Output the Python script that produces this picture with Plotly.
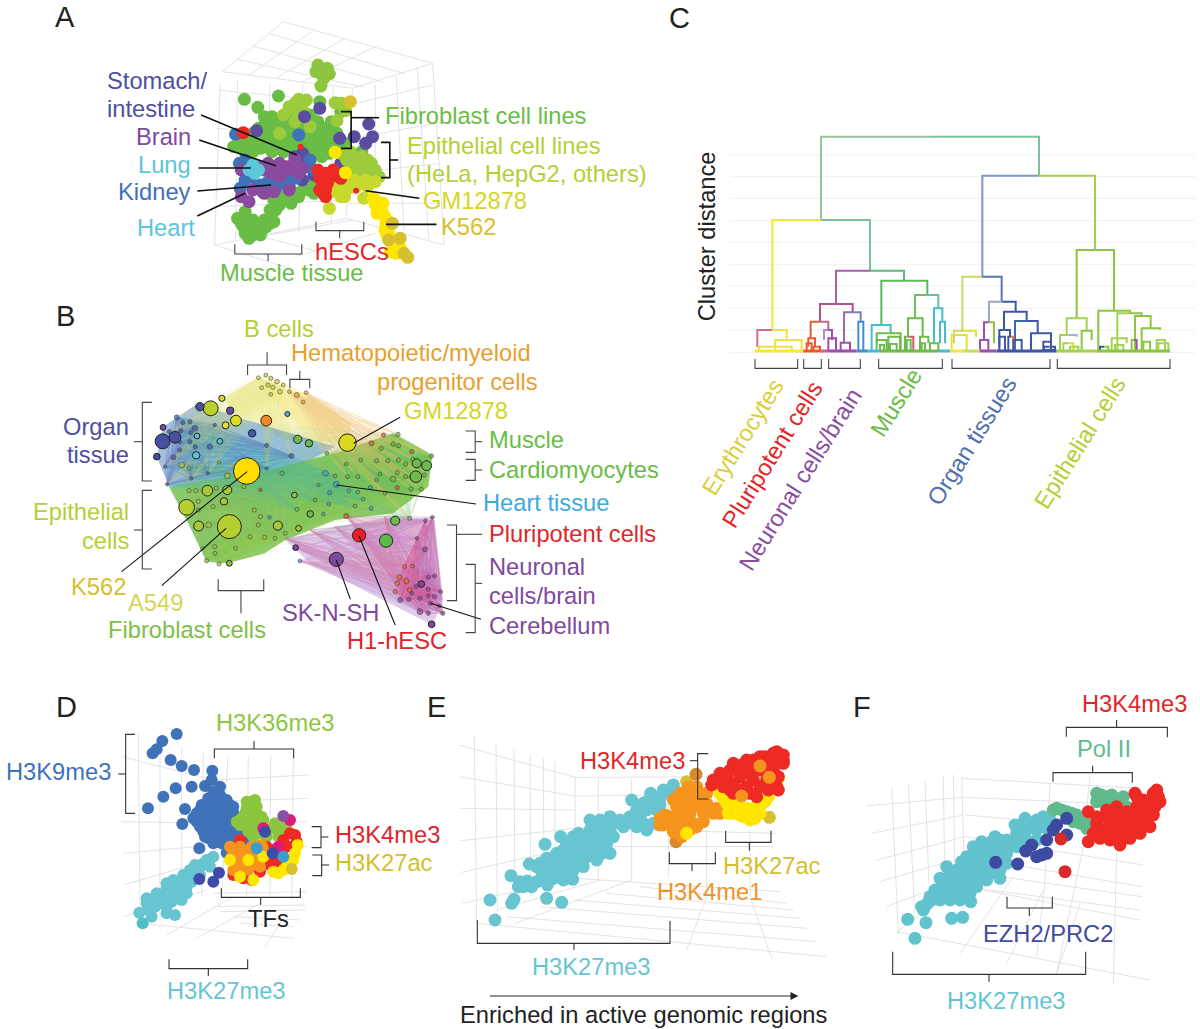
import plotly.graph_objects as go

FONT = "Liberation Sans"
TS = 23.7
# panel: page offset and scales of the reading grid
PANELS = {"A": (50, 0, 1568/600, 3.0), "B": (20, 300, 1568/650, 3.0), "C": (680, 120, 3.0, 3.0),
          "D": (0, 690, 3.0, 3.0), "E": (440, 690, 3.0, 3.0), "F": (840, 690, 3.0, 3.0)}
AXN = {"A": "", "B": "2", "C": "3", "D": "4", "E": "5", "F": "6"}

C_YEL="#ffe600"; C_RED="#ee2a24"; C_ORG="#f7941d"; C_TEAL="#66c5d0"; C_BLUE="#3f72b8"
T_GRN="#69bd45"; T_LIM="#b5cf35"; T_PUR="#7e4a9e"; T_IND="#4f4ea0"; T_CYA="#5cc5da"
T_RED="#e1262a"; T_GOLD="#d4c02e"; T_GM="#d4d626"; T_ORG="#e6a02f"

# ---------- Panel A points ----------
A_top = [(700,195),(725,205),(715,235),(708,258),(695,215),(730,222)]
A_lime = [(640,310),(650,298),(635,328),(660,330),(625,320),(745,308),(762,310),(772,332),(750,362),(640,365),(670,300),(610,345),(650,350),(600,400),(680,380)]
A_muscle = [(500,655),(530,660),(560,660),(585,665),(505,680),(535,680),(565,680),(510,700),(540,695),(520,715),(555,690),(575,670),
 (575,630),(600,615),(625,600),(610,590),(640,580),(690,565),(700,545),(510,635),(585,600),
 (508,298),(597,288),(543,322),(560,350),(590,360),(680,345),(705,305),(735,365),(760,335),
 (490,440),(500,445),(520,460),(540,420),(570,400),(600,390),(630,380),(660,390),(690,400),(720,410),(570,430),(600,425),(630,420),
 (660,425),(690,430),(720,440),(550,445),(610,455),(650,450),(680,460),(710,470),(600,370),(625,350),(660,370),(530,455),(580,455),
 (560,375),(590,380),(615,400),(645,400),(675,410),(705,425),(740,430),(530,440),(560,415),(590,410),(620,440),(650,435),(680,445),(700,450),(730,460),(660,470),(590,445),(520,430),(510,420),(740,390),(560,440),
 (490,655),(515,665),(545,670),(575,655),(520,690),(550,705),(530,705),(500,670),(590,630),(600,600),(630,610),(650,590),(660,570),(675,570),(700,570),(585,625),
 (545,385),(580,350),(610,355),(640,355),(700,365),(680,370),(720,385),(750,400),(770,430),(775,460),(800,480),(815,455),(530,400),(505,450),(480,440),(615,375),(650,375),(635,440),(705,395),(750,445),(690,580),(710,555),(690,540)]
A_indigo = [(665,350),(540,392),(833,372),(843,410),(757,415),(795,410),(825,430),(705,325),(760,490),(640,470),(650,490),(625,560),(660,540),(690,525),(640,500),(660,460)]
A_blue = [(485,403),(510,480),(510,540),(497,565),(550,555),(570,545),(590,540),(610,550),(590,565),(605,530),(640,535),(680,480),(675,500),(555,575),(520,520),(650,405),
 (525,530),(540,560),(575,555),(600,550),(620,545),(635,530),(660,505),(690,510),(510,505),(495,490)]
A_brain = [(500,510),(570,490),(590,500),(610,515),(630,510),(650,520),(580,520),(560,510),(520,605),(500,590),(530,570),(560,580),(625,570),(600,490),(620,500),(640,480),(600,530),(575,500),(545,500),(610,500),(660,505),(585,575)]
A_lung = [(530,495),(520,510),(545,510),(535,520)]
A_epi = [(760,460),(790,470),(820,490),(850,510),(860,530),(790,510),(830,520),(810,500),(775,480),(800,490),(830,505),(845,530),(770,520),(810,530),(830,480),(815,470),(785,455),(840,490)]
A_gm = [(780,545),(760,570),(740,560),(800,560),(830,560),(770,590),(820,595),(730,625),(760,550),(780,565),(795,540),(825,540),(850,545),(735,575),(760,590)]
A_red = [(720,520),(745,525),(760,535),(715,580),(725,550),(720,590),(505,398),(700,510),(740,510),(705,570),(720,570),(735,530),(705,535)]
A_red_small = [(800,572),(655,440)]
A_yellow = [(745,457),(772,518),(850,600),(870,610),(860,630),(850,615),(870,640),(880,660),(880,680),(885,700),(895,730),(890,755),(905,760),(915,745),(845,595),(855,605),(865,625),(875,650),(855,640),(878,670),(875,690),(890,720),(900,745),(880,705)]
A_gold = [(895,670),(915,715),(885,720),(935,772),(925,760),(785,305)]

# ---------- Panel B nodes (x, y, size) ----------
B_bcell = [(575,233,9),(593,225,9),(605,235,10),(620,245,11),(635,255,9),(583,263,9),(598,255,10),(610,262,10),(627,275,11),(605,283,9)]
B_hema = [(668,285,12),(690,278,9),(683,306,9),(650,275,9)]
B_big = [(547,513,64,"#ffdd00"),(790,428,42,"#d8d820"),(505,680,58,"#b5cf30"),(402,622,38,"#b8cf30"),(460,325,36,"#b8cf30"),
 (521,362,26,"#dde020"),(496,376,17,"#e8e030"),(487,295,15,"#d8d83a"),(594,362,26,"#f08a24"),
 (344,424,36,"#4650a0"),(374,412,28,"#4650a0"),(434,320,20,"#4650a0"),(507,332,18,"#6a4aa0"),(345,382,14,"#7a4aa0"),(560,400,18,"#3a5fa8"),(645,342,12,"#4ab8e0"),
 (427,408,14,"#55c5dc"),(425,466,18,"#55c5dc"),(482,424,14,"#55c5dc"),(330,470,16,"#4650a0"),
 (818,706,32,"#ee1c25"),(883,722,32,"#5cb848"),(763,778,34,"#7e4a9e"),(665,743,14,"#7e4a9e"),(968,852,16,"#7e4a9e"),(993,973,16,"#7e4a9e"),
 (452,572,26,"#a8c83a"),(500,570,22,"#a8c83a"),(492,604,18,"#a8c83a"),(431,678,24,"#a8c83a"),(622,677,22,"#a8c83a"),(505,790,14,"#8cc63f"),(672,685,14,"#a8c83a"),
 (670,418,20,"#6dbb4a"),(697,430,18,"#6dbb4a"),(957,490,22,"#6dbb4a"),(981,497,24,"#6dbb4a"),(955,530,28,"#6dbb4a"),(905,662,22,"#6dbb4a"),(700,642,16,"#6dbb4a"),(662,585,14,"#8cc63f")]
B_organ = [(378,352,12),(393,368,10),(410,365,10),(388,392,10),(422,385,14),(412,398,10),(360,395,10),(385,425,10),(410,425,10),(423,440,10),(370,472,12),(385,450,10),(458,440,13),(355,553,8),(413,535,8),(453,520,8),(350,500,8),(470,375,8),(595,436,10),(595,505,8),(655,468,12)]
B_low = [(408,572,10),(424,572,10),(473,564,10),(430,604,10),(430,630,10),(466,620,10),(540,560,10),(565,630,10),(580,650,10),(575,675,10),(590,712,10),(555,710,10),(470,740,10),(450,782,10),(480,792,10),(470,760,9),(520,745,9),(640,700,9),(615,715,9),(500,527,14),(390,495,14),(480,487,8),(408,505,8),(455,675,14),(440,745,8),(575,530,8)]
B_up = [(740,460,9),(871,445,10),(900,432,10),(912,403,10),(913,437,10),(887,482,10),(860,482,10),(913,480,10),(930,492,10),(993,468,10),(948,478,10),(975,525,10),(930,530,10),(910,518,10),(900,537,14),(945,530,10),(943,567,10),(968,568,10),(822,480,9),(787,492,9),(790,530,9),(815,530,9),(868,522,9),(860,540,9),(880,580,9),(940,655,10)]
B_mid = [(632,520,10),(712,600,9),(668,628,10),(793,572,9),(815,577,9),(828,597,9),(808,618,9),(760,528,9),(720,555,8)]
B_hblue = [(732,642,9),(747,578,10),(737,520,14),(763,553,14),(745,612,9),(847,625,9),(845,562,9),(602,652,8),(675,783,9)]
B_redsm = [(945,455,10),(848,430,12),(877,405,10),(787,648,12),(910,563,10),(580,570,8)]
B_neuro = [(978,662,9),(995,652,9),(958,715,9),(977,748,12),(985,832,10),(1000,828,10),(955,860,9),(985,868,10),(1015,875,9),(1000,890,10),(965,895,10),(990,910,10),(965,935,14),(985,940,10),(1020,940,10),(1012,918,9),(945,880,9),(985,888,9),(938,898,10),(917,900,12)]
B_pluri = [(915,832,12),(932,843,13),(910,850,11),(928,800,9),(947,798,9),(905,875,10),(940,870,11)]
B_under = [(640,715),(665,743),(675,783),(763,778),(787,648),(700,690),(818,706),(760,680),(880,650)]
B_hull_green = [(360,560),(600,510),(760,460),(900,400),(995,465),(985,560),(900,640),(760,660),(640,720),(590,760),(500,790),(450,785),(410,680)]
B_hull_blue = [(345,380),(430,310),(520,350),(760,440),(640,520),(500,540),(360,560),(330,470)]
B_hull_yellow = [(575,233),(650,270),(700,285),(800,370),(790,430),(640,420),(520,340),(490,295)]
B_hull_purple = [(640,720),(760,680),(900,650),(1000,660),(1020,900),(995,975),(700,790)]
B_hull_pink = [(790,650),(1000,660),(1020,900),(930,900)]

# ---------- Panel C links ----------
C_grid_y = [105,170,235,302,367,433,498,565,630,697]
# x left, x right, top, bottom left, bottom right, left colour, right colour
C_links = [
 (423,1077,50,300,167,"#97c49a","#7fc0a0"),(907,1245,167,470,390,"#7b96c9","#a5cf45"),(277,570,300,630,452,"#f2e43a","#7fbf9a"),
 (468,672,452,552,482,"#a860a8","#5fb97b"),(604,742,482,615,525,"#5cb85c","#5cb85c"),(705,775,525,595,565,"#6fbf60","#62c0a8"),
 (684,728,595,650,650,"#6dbb4a","#6dbb4a"),(762,787,565,670,605,"#45bcd0","#45bcd0"),(780,795,605,670,670,"#45bcd0","#45bcd0"),
 (575,632,615,690,640,"#45bcd0","#45bcd0"),(590,662,640,670,690,"#6dbb4a","#6dbb4a"),(420,518,552,605,577,"#b0508f","#b0508f"),
 (492,542,577,670,605,"#9c6ab0","#7a80c0"),(392,445,605,655,630,"#e0603a","#c06a80"),(432,456,630,660,660,"#b090c8","#9c4fb0"),
 (385,405,655,680,680,"#f0562a","#f0562a"),(535,550,605,690,690,"#3b8fd0","#3b8fd0"),(232,320,630,680,660,"#d9688a","#f0e040"),
 (285,365,660,695,695,"#f0e040","#f0e040"),(237,335,680,695,695,"#f0e040","#f0e040"),(847,965,470,632,545,"#c8dc60","#5a73b5"),
 (927,1007,545,605,575,"#9aa8c0","#3f55a5"),(972,1040,575,630,603,"#3f55a5","#3f55a5"),(1005,1073,603,695,640,"#3b68b5","#3f55a5"),
 (1053,1113,640,690,665,"#3f55a5","#3f55a5"),(1090,1113,665,690,690,"#3f55a5","#3f55a5"),(1092,1125,680,695,695,"#3f55a5","#3f55a5"),
 (912,942,607,660,670,"#9c4fb0","#8cc63f"),(958,990,630,680,650,"#3f55a5","#3f55a5"),(822,888,632,670,650,"#c8dc60","#e0e040"),
 (815,860,645,695,695,"#e0e040","#e0e040"),(1190,1302,390,595,572,"#8cc63f","#8cc63f"),(1160,1220,595,645,632,"#a5d050","#a5d050"),
 (1255,1350,572,695,580,"#8cc63f","#8cc63f"),(1312,1385,580,690,588,"#a5d050","#8cc63f"),(1365,1412,588,690,625,"#8cc63f","#8cc63f"),
 (1385,1440,625,695,630,"#8cc63f","#8cc63f"),(1430,1455,660,695,695,"#a5d050","#a5d050"),(1140,1190,645,690,650,"#a5d050","#a0b0d0"),
 (1205,1235,632,695,660,"#8cc63f","#8cc63f"),(1295,1340,655,690,670,"#a5d050","#a5d050"),(590,620,660,690,690,"#6dbb4a","#6dbb4a"),
 (625,660,650,690,690,"#6dbb4a","#6dbb4a"),(675,700,650,690,690,"#6dbb4a","#d9506a"),(720,745,650,690,670,"#6dbb4a","#6dbb4a"),
 (750,775,670,695,695,"#6dbb4a","#6dbb4a"),(445,468,655,695,695,"#9c4fb0","#9c4fb0"),(482,510,668,695,695,"#9c4fb0","#9c4fb0"),
 (900,925,660,695,695,"#9c4fb0","#9c4fb0"),(958,975,650,695,695,"#3f55a5","#3f55a5"),(985,1000,650,695,695,"#3f55a5","#e08030"),
 (1150,1180,670,695,695,"#a5d050","#e0e040"),(1355,1370,660,695,695,"#8cc63f","#9c4fb0"),(1390,1410,665,695,695,"#8cc63f","#8cc63f"),
 (380,395,670,690,690,"#f0562a","#f0562a"),(400,420,680,695,695,"#f0562a","#f0562a"),(600,612,675,695,695,"#6dbb4a","#6dbb4a"),(630,650,672,695,695,"#6dbb4a","#6dbb4a"),
 (680,692,660,695,695,"#6dbb4a","#6dbb4a"),(725,735,670,695,695,"#6dbb4a","#6dbb4a"),(1000,1025,660,695,695,"#3f55a5","#3f55a5"),(1095,1125,690,695,695,"#3f55a5","#3f55a5"),
 (1305,1330,675,695,695,"#a5d050","#a5d050"),(1435,1465,670,695,695,"#a5d050","#a5d050"),(1170,1195,680,695,695,"#a5d050","#a5d050"),(1260,1285,680,695,695,"#3f55a5","#8cc63f")]
C_base = [(225,370,"#f5e642"),(370,425,"#f0562a"),(425,445,"#c95b9f"),(445,530,"#9c4fb0"),(530,565,"#4a8fd0"),(565,600,"#45bcd0"),
 (600,775,"#6dbb4a"),(775,810,"#45bcd0"),(810,850,"#f5e642"),(850,900,"#c8dc60"),(900,950,"#9c4fb0"),(950,1130,"#3f55a5"),(1130,1250,"#a5d050"),(1250,1470,"#8cc63f")]
C_ticks = [(225,353),(371,424),(446,541),(596,787),(816,1110),(1132,1470)]

# ---------- Panel D points ----------
D_h3k9 = [(530,132),(487,153),(470,178),(458,190),(512,210),(545,228),(582,240),(637,242),(527,295),(490,320),(444,355),(575,290),(615,288),(660,290),(635,270),(555,357),(547,402),(598,475),(680,488),
 (640,320),(620,340),(660,340),(690,345),(600,360),(630,360),(660,365),(700,370),(580,385),(610,385),(640,385),(670,390),(700,395),(620,410),(650,410),(680,410),(710,415),(610,425),(640,435),(670,435),(700,435),(640,460),(665,460),(725,445),
 (605,345),(645,345),(675,345),(590,370),(615,370),(645,370),(680,370),(590,395),(625,395),(655,395),(685,400),(710,395),(600,410),(635,425),(660,425),(690,425),(715,430),(625,445),(655,445),(685,450),(710,450),(650,330),(625,325),(680,330),
 (700,350),(720,400),(730,430),(660,315),(640,305),(615,440),(745,455)]
D_h3k36 = [(755,335),(740,355),(770,350),(725,385),(755,385),(785,380),(745,410),(775,410),(720,405),(760,440),(815,415),(840,415),(860,400),(835,440),(790,390),(800,440),
 (740,335),(765,330),(750,370),(770,370),(735,370),(710,395),(730,400),(760,400),(745,425),(775,430),(790,420),(850,425),(825,400)]
D_teal = [(640,500),(600,530),(570,540),(545,570),(575,560),(600,555),(500,580),(530,590),(560,590),(470,610),(500,610),(530,610),(560,610),(455,635),(485,640),(515,635),(545,630),(418,668),(445,660),(455,680),(500,670),(525,675),(610,520),(630,530),
 (440,640),(470,630),(500,595),(515,595),(545,590),(575,575),(590,540),(620,510),(480,625),(510,620),(540,605),(520,570),(550,555),(585,525),(440,625),(465,650),(500,650)]
D_teal2 = [(428,700)]
D_red = [(700,555),(730,565),(755,570),(885,435),(875,470),(835,510),(820,480),(810,525),(720,450),(780,545),(860,470),(890,455),(840,540),(715,548),(800,470),(870,430),(850,450),(835,490),(805,500)]
D_mag = [(790,415),(870,390),(835,470)]
D_orange = [(690,470),(720,470),(695,500),(725,500),(755,470),(790,480),(760,520),(730,530),(700,540),(780,530),(740,490),(710,525),(705,485),(735,515),(770,500),(760,490),(715,510),(745,540),(785,465)]
D_yellow = [(690,510),(745,510),(820,545),(850,540),(880,510),(893,465),(760,570),(720,560),(790,500),(870,525),(835,550),(860,530),(885,490)]
D_gold = [(875,537)]
D_pur = [(850,378)]
D_ind = [(795,425),(818,490),(598,567),(657,548),(640,575)]
D_blue2 = [(850,500),(770,475)]

# ---------- Panel E points ----------
E_teal = [(150,630),(165,690),(215,640),(222,628),(320,625),(365,637),(213,557),(235,590),(262,573),(290,575),(322,585),(268,522),(315,463),(362,440),(398,568),(290,530),(320,540),(350,545),(375,550),(400,540),(430,530),(320,505),(350,490),(380,500),(410,500),(440,500),(470,510),(510,490),(380,465),(410,460),(440,460),(470,470),(500,460),(415,430),(450,420),(480,430),(510,420),(450,390),(480,390),(510,380),(540,390),(570,380),(600,380),(620,420),(640,400),(575,330),(610,340),(632,310),(660,325),(700,285),(690,310),(590,410),(620,360),(650,360),
 (300,520),(330,520),(360,520),(395,520),(425,515),(455,490),(485,490),(340,510),(370,480),(400,480),(430,480),(460,450),(490,450),(520,440),(400,440),(430,440),(460,400),(490,410),(520,400),(550,410),(580,400),(610,400),(590,360),(620,335),(600,360),(640,340),(670,300),(660,345),(340,530),(310,555),(340,565),(370,570),(305,545),(360,500),(250,590),(240,575),(275,590)]
E_orange = [(680,380),(710,350),(745,290),(770,290),(740,320),(770,330),(800,340),(720,380),(750,370),(790,370),(820,370),(840,370),(670,405),(700,410),(730,400),(760,400),(790,395),(675,375),(725,440),
 (700,330),(720,310),(690,380),(660,385),(660,405),(690,395),(710,380),(730,350),(760,350),(790,350),(810,355),(740,410),(770,410),(750,420),(720,420),(700,425),(830,355),(770,310),(800,310),(720,340)]
E_dorange = [(708,455),(768,253)]
E_yellow = [(740,430),(850,325),(870,350),(900,360),(930,370),(960,350),(985,320),(930,390),(880,370),(1015,265),(840,310),(860,340),(890,345),(920,355),(950,345),(975,335),(910,380),(945,385),(865,370),(900,375),(960,370)]
E_gold = [(988,382),(740,275)]
E_red = [(880,220),(860,260),(920,210),(960,200),(1010,185),(1030,210),(1000,240),(960,240),(920,250),(880,280),(850,265),(920,290),(960,290),(1010,290),(1030,220),(990,210),(850,290),(880,310),(950,320),(1015,300),(820,270),
 (890,240),(900,260),(940,230),(980,225),(1010,215),(1015,260),(900,300),(940,270),(980,270),(1000,190),(975,200),(940,210),(870,240),(905,225),(930,250),(870,300),(985,300),(930,310),(1030,195),(840,250),(815,285)]
E_orange2 = [(905,318),(988,262),(960,228)]

# ---------- Panel F points ----------
F_teal = [(203,688),(258,698),(225,745),(335,685),(368,682),(262,640),(250,660),(285,600),(300,630),(330,630),(360,630),(392,635),(320,530),(300,565),(320,590),(350,590),(380,590),(410,590),(440,570),(480,565),(350,540),(380,530),(410,530),(440,530),(380,500),(410,490),(440,490),(470,490),(425,455),(465,440),(500,450),(530,450),(500,490),(525,405),(555,385),(590,390),(620,395),(560,420),(590,420),(550,470),
 (300,600),(330,600),(360,600),(390,610),(310,620),(340,620),(370,620),(275,630),(290,615),(330,560),(360,560),(390,560),(420,560),(450,550),(330,545),(365,515),(395,510),(425,510),(455,510),(485,520),(510,470),(480,470),(450,470),(420,480),(400,470),(455,455),(480,450),(530,470),(560,450),(590,450),(530,430),(560,400),(590,405),(620,415),(540,425),(610,380),(630,390),(270,620),(245,650),(480,540),(500,520)]
F_mint = [(650,355),(680,365),(710,375),(740,380),(740,415),(720,400),(785,315),(815,315),(795,340),(850,320),(860,350),(790,395),(665,360),(695,370),(725,385),(730,400),(745,395),(770,310),(800,320),(825,325),(770,335),(845,345),(640,360),(700,395)]
F_ind = [(467,517),(533,522),(557,483),(575,465),(590,500),(620,490),(605,495),(620,450),(640,420),(650,405),(680,435),(680,385)]
F_dred = [(663,447),(675,545)]
F_red = [(745,455),(770,380),(800,380),(830,370),(860,385),(890,320),(940,310),(955,320),(945,350),(900,350),(920,380),(890,400),(770,420),(800,420),(830,420),(860,420),(900,430),(930,410),(780,445),(810,450),(840,465),(870,445),(745,365),
 (810,400),(840,400),(870,400),(840,390),(870,370),(900,370),(925,350),(930,330),(910,330),(890,350),(880,420),(910,410),(850,445),(820,435),(790,430),(760,430),(830,450),(770,400),(800,360),(830,350),(860,365),(885,310),(950,300),(960,335),(940,375),(900,400)]

# ---------- grid wires ----------
A_wire = [(610,65,1000,190),(570,100,930,222),(530,138,870,245),(490,178,820,262),(450,215,790,265),
 (610,65,450,215),(690,90,520,225),(770,115,590,235),(850,140,660,245),(1000,190,790,265),
 (445,250,430,735),(490,240,485,720),(575,250,565,710),(660,255,650,695),(740,262,735,670),(790,265,775,650),
 (440,270,790,310),(435,385,785,415),(435,505,780,520),(432,620,775,600),(430,735,775,655),
 (850,255,850,655),(905,230,925,690),(960,205,990,720),(1000,190,1030,735),
 (800,310,1000,255),(790,415,1010,370),(785,520,1020,490),(780,610,1025,610),(775,655,1030,735),
 (500,720,790,660),(640,770,850,700),(430,735,640,810),(520,700,720,760)]
D_wire = [(415,130,420,680),(480,150,480,690),(545,170,545,640),(610,190,605,620),(683,205,665,620),(745,200,740,620),(812,195,810,620),(880,205,875,630),
 (365,200,640,270),(640,270,925,255),(640,335,925,325),(365,395,640,400),(640,400,920,395),(368,490,640,465),(640,480,920,470),(370,585,560,530),
 (370,680,620,600),(640,610,920,605),(500,735,700,620),(590,745,780,640),(415,700,880,745),(640,650,915,645),(660,665,915,660),(700,680,900,690),(720,700,880,710),(795,770,860,670)]
E_wire = [(103,140,110,700),(168,160,172,665),(222,180,225,640),(270,195,272,620),(310,205,312,600),(345,215,345,590),(405,262,405,565),
 (475,265,475,570),(575,265,575,570),(685,270,685,560),(800,420,800,620),(930,420,930,620),
 (58,165,405,262),(58,260,405,318),(60,355,405,360),(62,452,405,415),(65,547,405,470),(68,640,405,565),
 (405,262,1000,260),(405,318,700,315),(405,415,1010,430),(405,470,1000,470),(405,565,1020,605),
 (170,660,480,570),(225,700,575,570),(740,780,800,620),(995,805,930,620),(600,590,1040,640),(500,610,1060,660),(400,630,1080,685),(300,650,1100,715),(200,680,1130,755),(110,700,1160,800)]
F_wire = [(155,290,175,730),(205,280,225,690),(255,275,270,660),(310,260,315,620),(340,255,345,600),(365,265,375,590),
 (78,348,365,322),(95,430,370,375),(110,510,375,440),(120,575,375,500),(140,650,375,560),(170,725,375,590),
 (365,265,900,295),(370,322,900,345),(375,375,915,420),(375,440,910,525),(375,500,905,590),(375,590,900,660),
 (630,280,615,570),(750,255,730,470),(845,290,830,480),(730,470,650,850),(830,480,820,880),(615,570,590,800),
 (170,725,930,870),(360,790,520,560),(500,820,610,600),(650,850,720,640),(430,600,900,690),(480,560,905,620)]

# ---------- annotations: leaders and brackets ----------
A_leaders = [[(395,345),(645,465)],[(390,420),(590,497)],[(388,504),(525,504)],[(385,573),(578,555)],[(385,648),(510,580)],
 [(825,572),(965,595)],[(878,673),(1010,673)],[(760,335),(787,335),(787,445),(760,445)],[(787,353),(860,353)],
 [(865,427),(888,427),(888,533),(865,533)],[(888,480),(910,480)]]
A_brackets = [[(695,665),(695,692),(820,692),(820,665)],[(757,692),(757,715)],[(483,733),(483,762),(658,762),(658,733)],[(570,762),(570,783)]]
B_leaders = [[(805,430),(917,352)],[(548,515),(245,815)],[(497,685),(342,857)],[(763,555),(1100,612)],[(818,708),(905,975)],[(763,780),(797,898)],[(990,910),(1112,958)]]
B_brackets = [[(549,225),(549,195),(643,195),(643,225)],[(596,195),(596,157)],[(651,265),(651,238),(699,238),(699,265)],[(675,238),(675,212)],
 [(318,307),(295,307),(295,543),(318,543)],[(295,425),(275,425)],[(1075,393),(1098,393),(1098,457),(1075,457)],[(1098,425),(1115,425)],
 [(1075,478),(1098,478),(1098,541),(1075,541)],[(1098,510),(1115,510)],[(318,571),(295,571),(295,807),(318,807)],[(295,690),(275,690)],
 [(478,838),(478,872),(588,872),(588,838)],[(533,872),(533,940)],[(1030,675),(1053,675),(1053,902),(1030,902)],[(1053,703),(1115,703)],
 [(1075,793),(1098,793),(1098,998),(1075,998)],[(1098,850),(1115,850)]]
D_brackets = [[(405,133),(377,133),(377,370),(405,370)],[(377,252),(355,252)],[(643,205),(643,177),(881,177),(881,205)],[(762,177),(762,153)],
 [(935,410),(963,410),(963,473),(935,473)],[(963,441),(985,441)],[(937,495),(965,495),(965,557),(937,557)],[(965,525),(987,525)],
 [(664,595),(664,622),(901,622),(901,595)],[(782,622),(782,645)],[(507,808),(507,836),(743,836),(743,808)],[(625,836),(625,858)]]
E_brackets = [[(805,191),(773,191),(773,327),(805,327)],[(773,212),(750,212)],[(857,422),(857,457),(993,457),(993,422)],[(928,457),(928,482)],
 [(688,487),(688,521),(826,521),(826,487)],[(756,521),(756,543)],[(112,690),(112,760),(690,760),(690,693)],[(402,760),(402,780)]]
F_brackets = [[(679,140),(679,112),(982,112),(982,142)],[(830,112),(830,90)],[(639,275),(639,248),(877,248),(877,278)],[(758,248),(758,227)],
 [(501,620),(501,654),(637,654),(637,620)],[(568,654),(568,678)],[(158,785),(158,853),(737,853),(737,785)],[(447,853),(447,875)]]

# text: x, y, anchor, label, colour
A_text = [(12,52,"left","A","#222"),(148,243,"left","Stomach/",T_IND),(148,328,"left","intestine",T_IND),(368,410,"right","Brain",T_PUR),(368,494,"right","Lung",T_CYA),
 (368,575,"right","Kidney",C_BLUE),(378,685,"right","Heart",T_CYA),(875,347,"left","Fibroblast cell lines",T_GRN),(932,437,"left","Epithelial cell lines",T_LIM),
 (932,522,"left","(HeLa, HepG2, others)",T_LIM),(975,602,"left","GM12878",T_GM),(1022,680,"left","K562",T_GOLD),(692,757,"left","hESCs",T_RED),(445,820,"left","Muscle tissue",T_GRN)]
B_text = [(87,48,"left","B","#222"),(541,88,"left","B cells",T_LIM),(653,160,"left","Hematopoietic/myeloid",T_ORG),(862,247,"left","progenitor cells",T_ORG),(927,332,"left","GM12878",T_GM),
 (263,380,"right","Organ",T_IND),(263,465,"right","tissue",T_IND),(1132,419,"left","Muscle",T_GRN),(1132,510,"left","Cardiomyocytes",T_GRN),(1118,608,"left","Heart tissue","#3fa8df"),
 (1132,703,"left","Pluripotent cells",T_RED),(1132,802,"left","Neuronal",T_PUR),(1132,887,"left","cells/brain",T_PUR),(1132,978,"left","Cerebellum",T_PUR),(263,637,"right","Epithelial",T_LIM),
 (263,722,"right","cells",T_LIM),(122,862,"left","K562",T_GOLD),(260,908,"left","A549","#d4d65a"),(213,990,"left","Fibroblast cells","#7cbf45"),(633,940,"left","SK-N-SH",T_PUR),(788,1024,"left","H1-hESC",T_RED)]
C_text = [(-33,-306,"left","C","#222")]
C_rot = [(189,951,"Erythrocytes","#d8cf3a"),(276,1005,"Pluripotent cells",T_RED),(360,1080,"Neuronal cells/brain","#8a4ea0"),(648,849,"Muscle",T_GRN),(876,963,"Organ tissues","#4f6fb0"),(1200,969,"Epithelial cells",T_LIM)]
D_text = [(168,50,"left","D","#222"),(647,98,"left","H3K36me3","#8cc63f"),(17,246,"left","H3K9me3",C_BLUE),(1005,435,"left","H3K4me3",T_RED),(1005,520,"left","H3K27ac",T_GOLD),(745,688,"left","TFs","#222"),(500,903,"left","H3K27me3",C_TEAL)]
E_text = [(-40,50,"left","E","#222"),(420,212,"left","H3K4me3",T_RED),(850,528,"left","H3K27ac",T_GOLD),(652,607,"left","H3K4me1","#f0932b"),(277,832,"left","H3K27me3",C_TEAL),(60,975,"left","Enriched in active genomic regions","#222")]
F_text = [(40,52,"left","F","#222"),(727,42,"left","H3K4me3",T_RED),(710,178,"left","Pol II","#5fba8e"),(428,733,"left","EZH2/PRC2","#3f4ba0"),(322,932,"left","H3K27me3",C_TEAL)]

fig = go.Figure()

def ax(p):
    return dict(xaxis="x"+AXN[p], yaxis="y"+AXN[p], showlegend=False, hoverinfo="skip")

def dots(p, pts, color, size, edge=None):
    fig.add_trace(go.Scatter(x=[a[0] for a in pts], y=[a[1] for a in pts], mode="markers",
        marker=dict(color=color, size=size, line=dict(width=0.8 if edge else 0, color=edge or color)), **ax(p)))

def paths(p, items, color="#404040", width=1.2, opacity=1):
    xs, ys = [], []
    for it in items:
        for a in it:
            xs.append(a[0]); ys.append(a[1])
        xs.append(None); ys.append(None)
    fig.add_trace(go.Scatter(x=xs, y=ys, mode="lines", opacity=opacity, line=dict(color=color, width=width), **ax(p)))

def wires(p, w):
    paths(p, [[(a, b), (c, d)] for a, b, c, d in w], "#dcdcdc", 0.8)

def fill(p, pts, color):
    fig.add_trace(go.Scatter(x=[a[0] for a in pts]+[pts[0][0]], y=[a[1] for a in pts]+[pts[0][1]], mode="lines", fill="toself",
        fillcolor=color, line=dict(width=0), **ax(p)))

def edges(group1, group2, color, op=0.16):
    items = []
    for i, a in enumerate(group1):
        for j, b in enumerate(group2):
            if group1 is group2 and j <= i:
                continue
            items.append([(a[0], a[1]), (b[0], b[1])])
    paths("B", items, color, 0.6, op)

def texts(p, rows):
    n = AXN[p]
    for x, y, anc, label, col in rows:
        size = 29 if len(label) == 1 else TS
        fig.add_annotation(x=x, y=y, xref="x"+n, yref="y"+n, text=label, showarrow=False, xanchor=anc, yanchor="middle",
                           xshift=-2 if anc == "left" else 2, font=dict(family=FONT, size=size, color=col))

# --- A
wires("A", A_wire)
for pts, c in [(A_top,"#8cc63f"),(A_muscle,T_GRN),(A_lime,"#9ccb3b"),(A_indigo,"#5b4ca0"),(A_blue,C_BLUE),(A_brain,"#8a4a9e"),(A_lung,"#5cc8dc"),(A_epi,"#9ccb3b"),(A_gm,"#c8d92e"),(A_red,C_RED),(A_yellow,C_YEL),(A_gold,"#d6c030")]:
    dots("A", pts, c, 13)
dots("A", A_red_small, C_RED, 6)
paths("A", A_leaders, "#111", 1.6)
paths("A", A_brackets, "#444", 1.1)
texts("A", A_text)

# --- B
for pts, c in [(B_hull_yellow,"rgba(240,232,130,.5)"),(B_hull_blue,"rgba(70,130,190,.5)"),(B_hull_green,"rgba(125,195,75,.85)"),(B_hull_purple,"rgba(170,105,190,.35)"),(B_hull_pink,"rgba(220,80,140,.25)")]:
    fill("B", pts, c)
edges(B_low, B_low, "#a6ce39", 0.35)
edges(B_up, B_up, "#5fb848", 0.35)
edges(B_low, B_up, "#7cc04a", 0.16)
edges(B_low, B_mid, "#7cc04a", 0.25)
edges(B_up, B_mid, "#5fb848", 0.25)
edges(B_organ, B_organ, "#4d4fa8", 0.45)
edges(B_organ, B_low, "#4fa8b0", 0.15)
edges(B_organ, B_mid, "#30b0c8", 0.3)
edges(B_organ, B_up, "#40b0b0", 0.1)
edges(B_bcell, B_organ, "#d5de50", 0.3)
edges(B_bcell, B_up, "#f0e050", 0.25)
edges(B_hema, B_up, "#f0a070", 0.35)
edges(B_neuro, B_neuro, "#a84fa8", 0.45)
edges(B_neuro, B_under, "#a060c0", 0.35)
edges(B_pluri, B_neuro, "#e04a80", 0.5)
edges(B_pluri, B_under, "#e8607a", 0.35)
FB = PANELS["B"][2]
for pts, c in [(B_bcell,"#c9d93a"),(B_hema,"#f0a030"),(B_organ,"#4056a8"),(B_low,"#a8c83a"),(B_up,"#6dbb4a"),(B_mid,"#6dbb4a"),(B_hblue,"#3fa0d8"),(B_redsm,"#e8502a"),(B_neuro,"#8a4a9e"),(B_pluri,"#f07020")]:
    fig.add_trace(go.Scatter(x=[a[0] for a in pts], y=[a[1] for a in pts], mode="markers",
        marker=dict(color=c, size=[a[2]/FB for a in pts], line=dict(width=0.8, color="#333")), **ax("B")))
for nx, ny, nd, nc in sorted(B_big, key=lambda n: -n[2]):
    fig.add_trace(go.Scatter(x=[nx], y=[ny], mode="markers", marker=dict(color=nc, size=nd/FB, line=dict(width=1, color="#222")), **ax("B")))
paths("B", B_leaders, "#111", 1.1)
paths("B", B_brackets, "#444", 1.1)
texts("B", B_text)

# --- C
paths("C", [[(150, y), (1545, y)] for y in C_grid_y], "#efefef", 0.9)
for x1, x2, top, b1, b2, c1, c2 in C_links:
    mid = (x1 + x2) / 2
    paths("C", [[(x1, b1), (x1, top), (mid, top)]], c1, 2)
    paths("C", [[(mid, top), (x2, top), (x2, b2)]], c2, 2)
for x1, x2, c in C_base:
    paths("C", [[(x1, 693), (x2, 693)]], c, 3)
paths("C", [[(a, 717), (a, 745), (b, 745), (b, 717)] for a, b in C_ticks], "#444", 1.1)
texts("C", C_text)
fig.add_annotation(x=80, y=350, xref="x3", yref="y3", text="Cluster distance", showarrow=False, textangle=-90,
                   font=dict(family=FONT, size=TS, color="#222"))
for x, y, label, col in C_rot:
    fig.add_annotation(x=x, y=y, xref="x3", yref="y3", text=label, showarrow=False, textangle=-58,
                       font=dict(family=FONT, size=TS, color=col))

# --- D
wires("D", D_wire)
for pts, c in [(D_teal,C_TEAL),(D_teal2,"#4fc0c5"),(D_h3k9,C_BLUE),(D_h3k36,"#8cc63f"),(D_red,C_RED),(D_orange,C_ORG),(D_yellow,C_YEL),(D_gold,"#d6c030"),(D_mag,"#e0187a"),(D_pur,"#8a4fa0"),(D_ind,"#3f4ba8"),(D_blue2,"#3c9cd0")]:
    dots("D", pts, c, 12)
paths("D", D_brackets, "#333", 1.1)
texts("D", D_text)

# --- E
wires("E", E_wire)
for pts, c, in [(E_teal,C_TEAL),(E_gold,"#d6c030"),(E_dorange,"#d9882d"),(E_orange,C_ORG),(E_yellow,C_YEL),(E_red,C_RED),(E_orange2,C_ORG)]:
    dots("E", pts, c, 13)
paths("E", E_brackets, "#333", 1.1)
texts("E", E_text)
fig.add_annotation(x=1075, y=918, ax=145, ay=918, xref="x5", yref="y5", axref="x5", ayref="y5", text="", showarrow=True,
                   arrowhead=2, arrowsize=1.3, arrowwidth=1.2, arrowcolor="#222")

# --- F
wires("F", F_wire)
for pts, c in [(F_teal,"#62c3ce"),(F_mint,"#61ba8e"),(F_ind,"#3c4ba0"),(F_dred,"#d92a2a"),(F_red,C_RED)]:
    dots("F", pts, c, 13)
paths("F", F_brackets, "#333", 1.1)
texts("F", F_text)

layout_axes = {}
for p, (ox, oy, fx, fy) in PANELS.items():
    n = AXN[p]
    common = dict(domain=[0, 1], visible=False, fixedrange=True)
    layout_axes["xaxis"+n] = dict(range=[-ox*fx, (1200-ox)*fx], anchor="y"+n, **common)
    layout_axes["yaxis"+n] = dict(range=[(1029-oy)*fy, -oy*fy], anchor="x"+n, **common)
fig.update_layout(width=1200, height=1029, margin=dict(l=0, r=0, t=0, b=0), paper_bgcolor="white", plot_bgcolor="rgba(0,0,0,0)",
                  showlegend=False, **layout_axes)
fig.write_html("out.html", config={"displayModeBar": False},
               post_script="document.body.style.margin='0';document.body.style.overflow='hidden';")
